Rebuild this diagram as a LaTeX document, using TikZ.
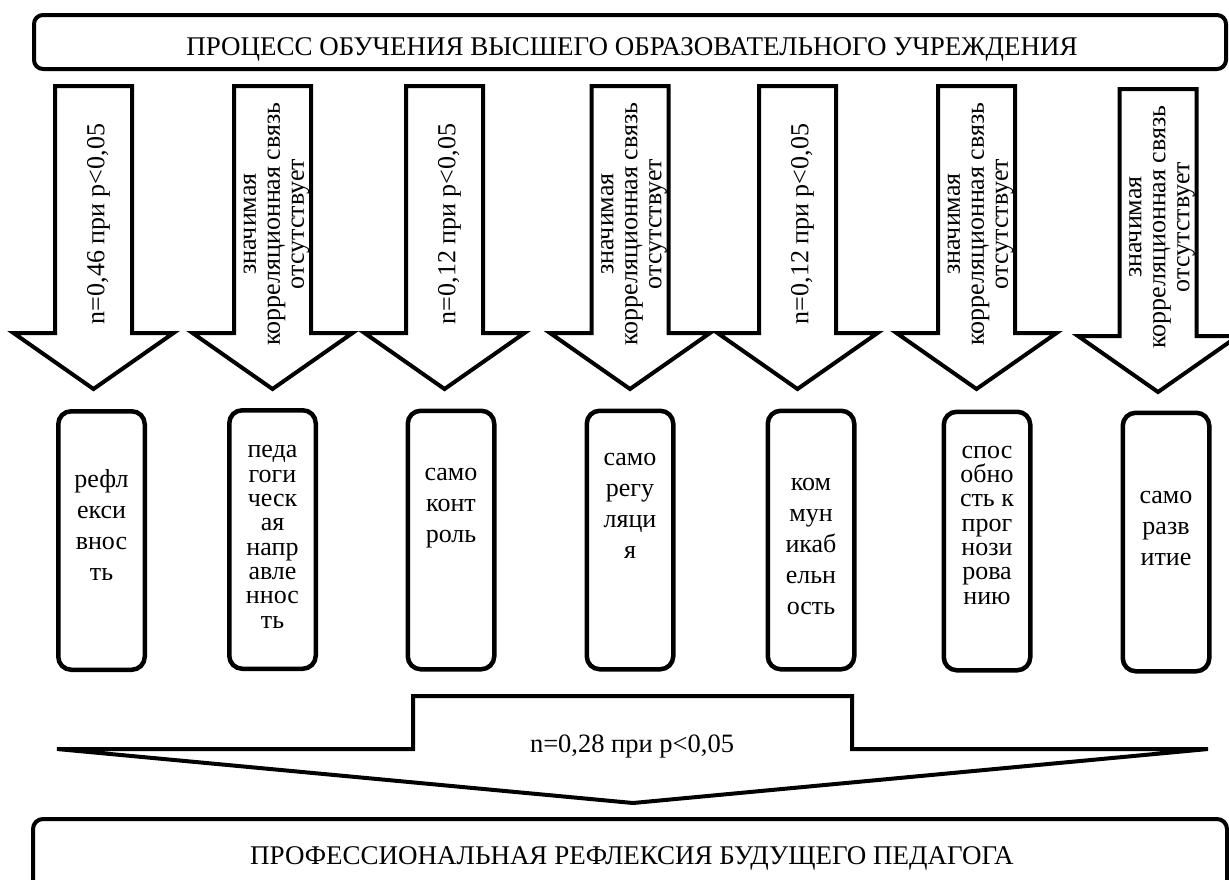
\documentclass[tikz,border=0pt]{standalone}
\usepackage{fontspec}
\setmainfont{Liberation Serif}
\begin{document}
\begin{tikzpicture}[x=1pt,y=-1pt,
  txt/.style={font=\fontsize{26}{24}\selectfont, inner sep=0pt},
  captxt/.style={font=\fontsize{27}{27}\selectfont, inner sep=0pt, anchor=base},
  vtxt/.style={txt, rotate=90, align=center, anchor=center},
  boxtxt/.style={font=\fontsize{26}{31}\selectfont, inner sep=0pt, align=center, anchor=base},
  boxtxtsm/.style={font=\fontsize{26}{24.3}\selectfont, inner sep=0pt, align=center, anchor=base},
  cbox/.style={draw, line width=4.5pt, rounded corners=13pt, minimum width=86.5pt, minimum height=258.5pt, inner sep=0pt, fill=white},
  widebox/.style={draw, line width=4pt, inner sep=0pt, fill=white},
  downarrow/.pic={\draw[fill=white, line width=4pt, line join=miter]
    (-38.5,0) -- (38.5,0) -- (38.5,247) -- (80,247) -- (0,303) -- (-80,247) -- (-38.5,247) -- cycle;}
]
\useasboundingbox (0,0) rectangle (1229,879);

% top box
\node[widebox, rounded corners=9pt, minimum width=1192pt, minimum height=54pt] (top) at (630,42) {};
\node[captxt] (toptxt) at (632,55) {ПРОЦЕСС ОБУЧЕНИЯ ВЫСШЕГО ОБРАЗОВАТЕЛЬНОГО УЧРЕЖДЕНИЯ};

% block arrows
\pic at (93.5,86) {downarrow};
\pic at (272.5,86) {downarrow};
\pic at (444.5,86) {downarrow};
\pic at (630,86) {downarrow};
\pic at (797.5,86) {downarrow};
\pic at (976.5,86) {downarrow};
\pic at (1158,89) {downarrow};

\node[vtxt] (a1) at (98.5,224) {n=0,46 при р<0,05};
\node[vtxt] (a2) at (276.5,224) {значимая\\корреляционная связь\\отсутствует};
\node[vtxt] (a3) at (449.5,224) {n=0,12 при р<0,05};
\node[vtxt] (a4) at (634,224) {значимая\\корреляционная связь\\отсутствует};
\node[vtxt] (a5) at (802.5,224) {n=0,12 при р<0,05};
\node[vtxt] (a6) at (980.5,224) {значимая\\корреляционная связь\\отсутствует};
\node[vtxt] (a7) at (1162,227) {значимая\\корреляционная связь\\отсутствует};

% quality boxes
\node[cbox] (b1) at (101.5,540.5) {};
\node[cbox] (b2) at (272.5,539.5) {};
\node[cbox] (b3) at (451,540) {};
\node[cbox] (b4) at (630,540) {};
\node[cbox] (b5) at (811,540) {};
\node[cbox] (b6) at (987,541) {};
\node[cbox] (b7) at (1166,542) {};

% text nodes anchored at the baseline of their last line
\node[boxtxt] (t1) at (101.5,580) {рефл\\екси\\внос\\ть};
\node[boxtxtsm] (t2) at (272.5,628) {педа\\гоги\\ческ\\ая\\напр\\авле\\ннос\\ть};
\node[boxtxt] (t3) at (451,542) {само\\конт\\роль};
\node[boxtxt] (t4) at (630,558) {само\\регу\\ляци\\я};
\node[boxtxt] (t5) at (811,614) {ком\\мун\\икаб\\ельн\\ость};
\node[boxtxtsm] (t6) at (987,604) {спос\\обно\\сть к\\прог\\нози\\рова\\нию};
\node[boxtxt] (t7) at (1166,565) {само\\разв\\итие};

% bottom wide arrow
\draw[fill=white, line width=4pt, line join=miter]
  (57,749) -- (413,749) -- (413,696) -- (852,696) -- (852,749) -- (1208,749) -- (633,803) -- cycle;
\node[txt, font=\fontsize{26.5}{26}\selectfont, anchor=base] (mid) at (632,752) {n=0,28 при р<0,05};

% bottom box
\node[widebox, rounded corners=10pt, minimum width=1194pt, minimum height=120pt] (bot) at (630,879) {};
\node[captxt] (bottxt) at (632,864) {ПРОФЕССИОНАЛЬНАЯ РЕФЛЕКСИЯ БУДУЩЕГО ПЕДАГОГА};
\end{tikzpicture}
\end{document}
